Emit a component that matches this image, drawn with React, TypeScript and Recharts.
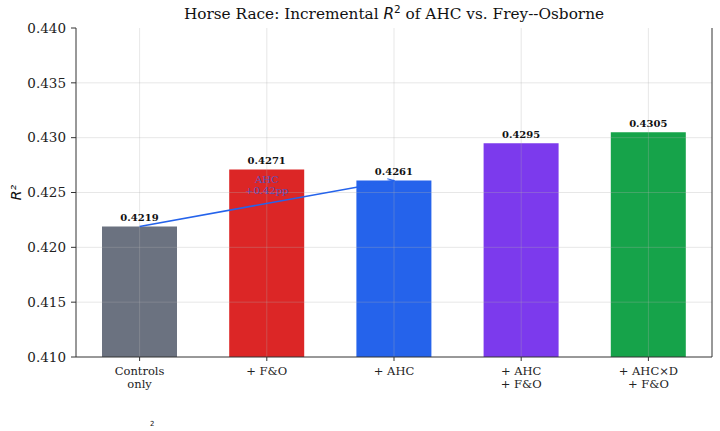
import React from "react";
import {
  ComposedChart,
  Bar,
  XAxis,
  YAxis,
  Cell,
  LabelList,
  ReferenceLine,
  ReferenceDot,
} from "recharts";

const categories = ["Controls\nonly", "+ F&O", "+ AHC", "+ AHC\n+ F&O", "+ AHC×D\n+ F&O"];
const r2Values = [0.4219, 0.4271, 0.4261, 0.4295, 0.4305];
const barColors = ["#6b7280", "#dc2626", "#2563eb", "#7c3aed", "#16a34a"];
const yTicks = [0.41, 0.415, 0.42, 0.425, 0.43, 0.435, 0.44];
const arrowFrom = { category: "Controls\nonly", value: 0.4219 };
const arrowTo = { category: "+ AHC", value: 0.4261 };
const annotation = { category: "+ F&O", value: 0.4259, lines: ["AHC", "+0.42pp"] };

const data = categories.map((c, i) => ({ name: c, r2: r2Values[i], color: barColors[i] }));

const SERIF = "'DejaVu Serif', serif";
const SANS = "'DejaVu Sans', sans-serif";
const GRID = "#b0b0b0";

const XTick = (props: any) => {
  const { x, y, payload } = props;
  const lines = String(payload.value).split("\n");
  return (
    <text x={x} y={y} textAnchor="middle" fontFamily={SERIF} fontSize={11.5} fill="#222">
      {lines.map((l: string, i: number) => (
        <tspan key={i} x={x} dy={i === 0 ? "0.71em" : "1.12em"}>
          {l}
        </tspan>
      ))}
    </text>
  );
};

const AnnotationLabel = (props: any) => {
  const { viewBox } = props;
  const cx = viewBox.cx ?? viewBox.x;
  const cy = viewBox.cy ?? viewBox.y;
  return (
    <text x={cx} y={cy} textAnchor="middle" fontFamily={SERIF} fontSize={10} fill="#2563eb" fillOpacity={0.75}>
      {annotation.lines.map((l, i) => (
        <tspan key={i} x={cx} dy={i === 0 ? "0em" : "1.1em"}>
          {l}
        </tspan>
      ))}
    </text>
  );
};

export default function App() {
  return (
    <div style={{ position: "absolute", left: 0, top: 0, width: 720, height: 431, background: "#fff", overflow: "hidden" }}>
      <svg width={0} height={0} style={{ position: "absolute" }}>
        <defs>
          <marker id="arrowHead" viewBox="0 0 10 10" refX="9" refY="5" markerWidth="7" markerHeight="7" markerUnits="userSpaceOnUse" orient="auto">
            <path d="M0,1 L9,5 L0,9" fill="none" stroke="#2563eb" strokeWidth={1.5} />
          </marker>
        </defs>
      </svg>
      <div
        style={{
          position: "absolute",
          left: 76,
          width: 636,
          top: 3,
          textAlign: "center",
          fontFamily: SERIF,
          fontSize: 15.3,
          color: "#111",
          whiteSpace: "nowrap",
        }}
      >
        Horse Race: Incremental <span style={{ fontFamily: SANS, fontStyle: "italic" }}>R</span>
        <sup style={{ fontFamily: SANS, fontSize: 10.5 }}>2</sup> of AHC vs. Frey--Osborne
      </div>
      <ComposedChart
        width={720}
        height={431}
        data={data}
        margin={{ top: 28, right: 7, bottom: 44, left: 6 }}
      >
        <XAxis
          xAxisId="bottom"
          dataKey="name"
          type="category"
          interval={0}
          tick={<XTick />}
          tickSize={4}
          tickMargin={6}
          height={30}
          axisLine={{ stroke: "#333" }}
          tickLine={{ stroke: "#333" }}
        />
        <XAxis xAxisId="top" orientation="top" dataKey="name" height={0} tick={false} tickLine={false} axisLine={{ stroke: "#333" }} />
        <YAxis
          yAxisId="left"
          domain={[0.41, 0.44]}
          ticks={yTicks}
          allowDataOverflow
          width={70}
          tickSize={5}
          tickMargin={5}
          tickFormatter={(v: number) => v.toFixed(3)}
          tick={{ fontFamily: SERIF, fontSize: 13.5, fill: "#222" }}
          axisLine={{ stroke: "#333" }}
          tickLine={{ stroke: "#333" }}
          label={{
            value: "R²",
            angle: -90,
            position: "insideLeft",
            offset: 10,
            style: { fontFamily: SANS, fontStyle: "italic", fontSize: 14, fill: "#111", textAnchor: "middle" },
          }}
        />
        <YAxis
          yAxisId="right"
          orientation="right"
          domain={[0.41, 0.44]}
          width={1}
          tick={false}
          tickLine={false}
          axisLine={{ stroke: "#333" }}
        />
        <Bar xAxisId="bottom" yAxisId="left" dataKey="r2" barSize={75} isAnimationActive={false}>
          {data.map((d, i) => (
            <Cell key={i} fill={d.color} />
          ))}
          <LabelList
            dataKey="r2"
            position="top"
            offset={5}
            formatter={(v: any) => Number(v).toFixed(4)}
            style={{ fontFamily: SERIF, fontWeight: "bold", fontSize: 10, fill: "#111" }}
          />
        </Bar>
        {yTicks.slice(1, -1).map((t) => (
          <ReferenceLine key={"gy" + t} xAxisId="bottom" yAxisId="left" y={t} stroke={GRID} strokeOpacity={0.3} strokeWidth={1} />
        ))}
        {categories.map((c) => (
          <ReferenceLine key={"gx" + c} xAxisId="bottom" yAxisId="left" x={c} stroke={GRID} strokeOpacity={0.3} strokeWidth={1} />
        ))}
        <ReferenceLine
          xAxisId="bottom"
          yAxisId="left"
          segment={[
            { x: arrowFrom.category, y: arrowFrom.value },
            { x: arrowTo.category, y: arrowTo.value },
          ]}
          stroke="#2563eb"
          strokeWidth={1.6}
          markerEnd="url(#arrowHead)"
        />
        <ReferenceDot
          xAxisId="bottom"
          yAxisId="left"
          x={annotation.category}
          y={annotation.value}
          r={0}
          fill="none"
          stroke="none"
          label={<AnnotationLabel />}
        />
      </ComposedChart>
      <div style={{ position: "absolute", left: 150, top: 420, fontFamily: SANS, fontSize: 7, lineHeight: "8px", color: "#111" }}>2</div>
    </div>
  );
}
